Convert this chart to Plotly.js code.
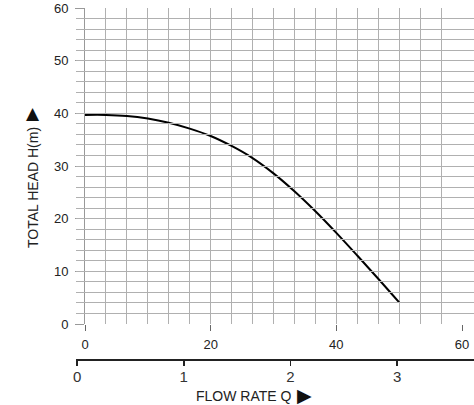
<!DOCTYPE html>
<html>
<head>
<meta charset="utf-8">
<script src="https://cdn.plot.ly/plotly-3.0.1.min.js"></script>
<style>
html,body{margin:0;padding:0;background:#fff;}
#chart{width:474px;height:405px;}
</style>
</head>
<body>
<div id="chart"></div>
<script>
// Flow rate (top scale) and total head values
const flow = [0, 3.33, 6.67, 10, 13.33, 16.67, 20, 23.33, 26.67, 30, 33.33, 36.67, 40, 43.33, 46.67, 50];
const head = [39.7, 39.7, 39.5, 39.0, 38.2, 37.1, 35.7, 33.8, 31.5, 28.6, 25.2, 21.4, 17.3, 13.0, 8.6, 4.1];

// tick labels
const xTicks = [0, 20, 40, 60];
const yTicks = [0, 10, 20, 30, 40, 50, 60];
const q2Ticks = [0, 1, 2, 3];

const yTitle = 'TOTAL HEAD H(m)';
const xTitle = 'FLOW RATE Q';
const rightArrow = '\u25B6';
const upArrow = '\u25B2';

const FONT = 'Liberation Sans, Arial, Helvetica, sans-serif';
const GRID = '#b0b0b0';

const traces = [
  {
    x: flow, y: head, type: 'scatter', mode: 'lines',
    line: {color: '#000', width: 2, shape: 'spline', smoothing: 1},
    xaxis: 'x', yaxis: 'y', hoverinfo: 'skip', showlegend: false
  },
  {
    x: [], y: [], type: 'scatter', mode: 'lines',
    xaxis: 'x2', yaxis: 'y', showlegend: false, hoverinfo: 'skip'
  }
];

const layout = {
  width: 474, height: 405,
  margin: {l: 76, r: 0, t: 8, b: 40},
  paper_bgcolor: '#fff',
  plot_bgcolor: 'rgba(0,0,0,0)',
  font: {family: FONT, color: '#222', size: 13},
  showlegend: false,
  xaxis: {
    domain: [9/398, 386/398],
    range: [0, 60],
    tickvals: xTicks,
    ticks: 'outside', ticklen: 6, tickcolor: '#666', tickwidth: 1,
    showgrid: true, gridcolor: GRID, gridwidth: 1,
    minor: {dtick: 10/3, tick0: 0, showgrid: true, gridcolor: GRID, gridwidth: 1, ticks: ''},
    zeroline: false, showline: false,
    tickfont: {size: 13, color: '#222'},
    ticklabelstandoff: 2,
    anchor: 'y', fixedrange: true
  },
  yaxis: {
    domain: [41/357, 1],
    range: [0, 60],
    tickvals: yTicks,
    ticks: 'outside', ticklen: 9, tickcolor: '#999', tickwidth: 1,
    showgrid: true, gridcolor: GRID, gridwidth: 1,
    minor: {dtick: 2, tick0: 0, showgrid: true, gridcolor: GRID, gridwidth: 1, ticks: ''},
    zeroline: false, showline: true, linecolor: '#999', linewidth: 1,
    tickfont: {size: 13, color: '#222'},
    ticklabelstandoff: 4,
    anchor: 'x', fixedrange: true
  },
  xaxis2: {
    domain: [0, 1],
    range: [-0.01, 3.72],
    tickvals: q2Ticks,
    ticks: 'outside', ticklen: 5, tickcolor: '#222', tickwidth: 1.5,
    showgrid: false, zeroline: false,
    showline: true, linecolor: '#222', linewidth: 1.5,
    tickfont: {size: 15, color: '#333'},
    ticklabelstandoff: -2,
    anchor: 'free', position: 6/357, side: 'bottom', fixedrange: true
  },
  annotations: [
    {
      text: yTitle, textangle: -90, xref: 'paper', yref: 'paper',
      x: (33 - 76)/398, y: (365 - 188)/357, xanchor: 'center', yanchor: 'middle',
      showarrow: false, font: {size: 14, color: '#222', family: FONT}
    },
    {
      text: upArrow, xref: 'paper', yref: 'paper',
      x: (33 - 76)/398, y: (365 - 113)/357, xanchor: 'center', yanchor: 'middle',
      showarrow: false, font: {size: 17, color: '#111', family: 'DejaVu Sans, ' + FONT}
    },
    {
      text: xTitle, xref: 'paper', yref: 'paper',
      x: (194 - 76)/398, y: (365 - 396)/357, xanchor: 'left', yanchor: 'middle',
      showarrow: false, font: {size: 14, color: '#222', family: FONT}
    },
    {
      text: rightArrow, xref: 'paper', yref: 'paper',
      x: (304 - 76)/398, y: (365 - 395)/357, xanchor: 'center', yanchor: 'middle',
      showarrow: false, font: {size: 19, color: '#111', family: 'DejaVu Sans, ' + FONT}
    }
  ]
};

Plotly.newPlot('chart', traces, layout, {staticPlot: true, displayModeBar: false});
</script>
</body>
</html>
